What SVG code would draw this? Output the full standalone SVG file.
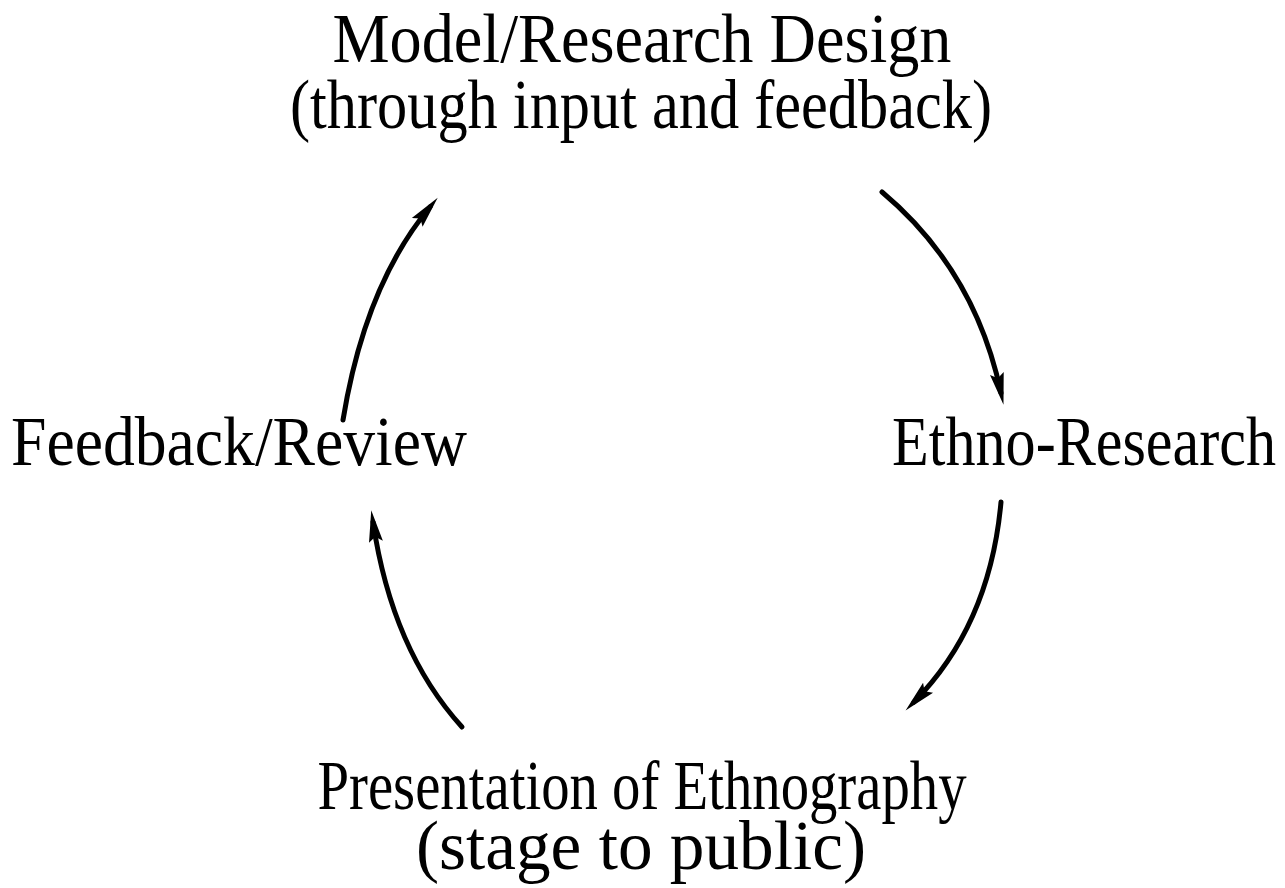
<svg xmlns="http://www.w3.org/2000/svg" width="1285" height="888" viewBox="0 0 1285 888">
  <style>
    .label { font-family: "Liberation Serif", "Times New Roman", serif; font-size: 70px; fill: #000; }
    .arc { fill: none; stroke: #000; stroke-width: 5; stroke-linecap: round; }
  </style>
  <defs>
    <marker id="head" markerUnits="userSpaceOnUse" markerWidth="34" markerHeight="18" viewBox="0 0 34 18" refX="20" refY="9" orient="auto">
      <path d="M0,2 L32,9 L0,16 L5,9 Z" fill="#000"/>
    </marker>
  </defs>
  <rect width="1285" height="888" fill="#fff"/>

  <g id="node-design">
    <text class="label" x="642" y="62" text-anchor="middle" textLength="619" lengthAdjust="spacingAndGlyphs">Model/Research Design</text>
    <text class="label" x="641" y="128" text-anchor="middle" textLength="702" lengthAdjust="spacingAndGlyphs">(through input and feedback)</text>
  </g>
  <g id="node-research">
    <text class="label" x="1084" y="465" text-anchor="middle" textLength="384" lengthAdjust="spacingAndGlyphs">Ethno-Research</text>
  </g>
  <g id="node-presentation">
    <text class="label" x="642" y="809" text-anchor="middle" textLength="649" lengthAdjust="spacingAndGlyphs">Presentation of Ethnography</text>
    <text class="label" x="641" y="869" text-anchor="middle" textLength="450" lengthAdjust="spacingAndGlyphs">(stage to public)</text>
  </g>
  <g id="node-feedback">
    <text class="label" x="239" y="465" text-anchor="middle" textLength="456" lengthAdjust="spacingAndGlyphs">Feedback/Review</text>
  </g>

  <g id="connectors">
    <path class="arc" d="M343,420 Q365,285 430,207" marker-end="url(#head)"/>
    <path class="arc" d="M882,192 Q975,270 1001,393" marker-end="url(#head)"/>
    <path class="arc" d="M1001,502 Q990,625 914,702" marker-end="url(#head)"/>
    <path class="arc" d="M462,727 Q392,650 373,522" marker-end="url(#head)"/>
  </g>
</svg>
